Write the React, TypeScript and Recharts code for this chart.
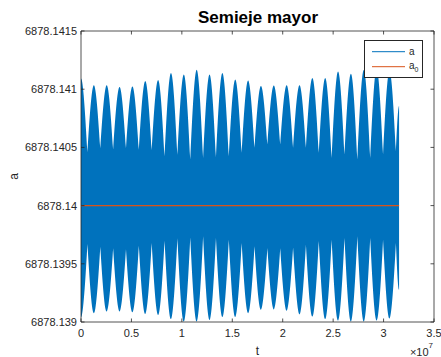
import React from 'react'
import {
  ComposedChart, Area, Line, XAxis, YAxis, ReferenceArea, Legend
} from 'recharts'

// t in units of 1e7 s, positions of the envelope extremes
const tValues = [
  0, 0.0637, 0.1274, 0.1912, 0.2549, 0.3186, 0.3823, 0.4460, 0.5098, 0.5735,
  0.6372, 0.7009, 0.7646, 0.8284, 0.8921, 0.9558, 1.0195, 1.0832, 1.1470, 1.2107,
  1.2744, 1.3381, 1.4018, 1.4656, 1.5293, 1.5930, 1.6567, 1.7204, 1.7842, 1.8479,
  1.9116, 1.9753, 2.0390, 2.1028, 2.1665, 2.2302, 2.2939, 2.3576, 2.4214, 2.4851,
  2.5488, 2.6125, 2.6762, 2.7400, 2.8037, 2.8674, 2.9311, 2.9948, 3.0586, 3.1223,
  3.1536,
]

// upper edge of the a(t) band (peak, cusp, peak, ...)
const upperValues = [
  6878.141093, 6878.140459, 6878.141033, 6878.140493, 6878.141035, 6878.140482,
  6878.141018, 6878.140493, 6878.141024, 6878.140480, 6878.141070, 6878.140476,
  6878.141078, 6878.140424, 6878.141139, 6878.140437, 6878.141126, 6878.140396,
  6878.141167, 6878.140410, 6878.141127, 6878.140416, 6878.141139, 6878.140424,
  6878.141083, 6878.140453, 6878.141074, 6878.140496, 6878.141027, 6878.140525,
  6878.141031, 6878.140525, 6878.141035, 6878.140496, 6878.141035, 6878.140496,
  6878.141096, 6878.140453, 6878.141096, 6878.140410, 6878.141153, 6878.140439,
  6878.141133, 6878.140396, 6878.141164, 6878.140410, 6878.141173, 6878.140439,
  6878.141156, 6878.140467, 6878.140855,
]

// lower edge of the a(t) band (trough, spike, trough, ...)
const lowerValues = [
  6878.139039, 6878.139670, 6878.139076, 6878.139647, 6878.139090, 6878.139633,
  6878.139090, 6878.139624, 6878.139084, 6878.139654, 6878.139069, 6878.139678,
  6878.139060, 6878.139699, 6878.139026, 6878.139720, 6878.139004, 6878.139727,
  6878.139004, 6878.139736, 6878.139017, 6878.139721, 6878.139043, 6878.139707,
  6878.139043, 6878.139678, 6878.139076, 6878.139650, 6878.139105, 6878.139635,
  6878.139108, 6878.139633, 6878.139096, 6878.139641, 6878.139065, 6878.139664,
  6878.139047, 6878.139695, 6878.139026, 6878.139707, 6878.139013, 6878.139721,
  6878.139004, 6878.139736, 6878.139004, 6878.139721, 6878.139013, 6878.139707,
  6878.139030, 6878.139678, 6878.139277,
]

const A0 = 6878.14

const xTicks = [0, 0.5, 1, 1.5, 2, 2.5, 3, 3.5]
const yTicks = [6878.139, 6878.1395, 6878.14, 6878.1405, 6878.141, 6878.1415]
const yTickLabels = ['6878.139', '6878.1395', '6878.14', '6878.1405', '6878.141', '6878.1415']

const W = 441
const H = 357
const MARGIN = { top: 31, right: 7, bottom: 0, left: 0 }
const Y_AXIS_W = 81
const X_AXIS_H = 35
const PLOT_TOP = MARGIN.top
const PLOT_RIGHT = W - MARGIN.right
const TICK_LEN = 3.5
const AXIS_COLOR = '#262626'
const BLUE = '#0072BD'
const ORANGE = '#D95319'
const FONT = "'Liberation Sans', Arial, Helvetica, sans-serif"

const data = tValues.map((t, i) => ({ t, range: [lowerValues[i], upperValues[i]], a0: A0 }))

// rounded outer extremes, sharp inner cusps (|cos|-like envelope)
const envelopeCurve = (context: any) => {
  let pts: number[][] = []
  let inArea = false
  let lineIdx = 0
  const flush = () => {
    const n = pts.length
    if (!n) return
    const top = lineIdx === 0
    const outer = pts.map((p, i) => {
      const nb = [pts[i - 1], pts[i + 1]].filter(Boolean)
      return nb.every(q => (top ? p[1] <= q[1] : p[1] >= q[1]))
    })
    if (inArea && lineIdx === 1) context.lineTo(pts[0][0], pts[0][1])
    else context.moveTo(pts[0][0], pts[0][1])
    for (let i = 1; i < n; i++) {
      const [x0, y0] = pts[i - 1]
      const [x1, y1] = pts[i]
      const dx = x1 - x0
      const dy = y1 - y0
      const same = outer[i - 1] === outer[i]
      const kA = same ? 1 : outer[i - 1] ? 0 : Math.PI / 2
      const kB = same ? 1 : outer[i] ? 0 : Math.PI / 2
      context.bezierCurveTo(x0 + dx / 3, y0 + (kA * dy) / 3, x1 - dx / 3, y1 - (kB * dy) / 3, x1, y1)
    }
    if (inArea && lineIdx === 1) context.closePath()
  }
  return {
    areaStart() { inArea = true; lineIdx = 0 },
    areaEnd() { inArea = false },
    lineStart() { pts = [] },
    lineEnd() { flush(); lineIdx++ },
    point(x: number, y: number) { pts.push([+x, +y]) },
  }
}

function XTick({ x, y, payload }: any) {
  const plotH = y - PLOT_TOP
  return (
    <g>
      <line x1={x} y1={y} x2={x} y2={y - TICK_LEN} stroke={AXIS_COLOR} strokeWidth={0.8} />
      <line x1={x} y1={y - plotH} x2={x} y2={y - plotH + TICK_LEN} stroke={AXIS_COLOR} strokeWidth={0.8} />
      <text x={x} y={y + 15} textAnchor="middle" fontSize={11} fill={AXIS_COLOR} fontFamily={FONT}>
        {String(payload.value)}
      </text>
    </g>
  )
}

function YTick({ x, y, payload }: any) {
  const idx = yTicks.findIndex(v => Math.abs(v - payload.value) < 1e-7)
  return (
    <g>
      <line x1={x} y1={y} x2={x + TICK_LEN} y2={y} stroke={AXIS_COLOR} strokeWidth={0.8} />
      <line x1={PLOT_RIGHT} y1={y} x2={PLOT_RIGHT - TICK_LEN} y2={y} stroke={AXIS_COLOR} strokeWidth={0.8} />
      <text x={x - 4} y={y + 4} textAnchor="end" fontSize={11} fill={AXIS_COLOR} fontFamily={FONT}>
        {idx >= 0 ? yTickLabels[idx] : ''}
      </text>
    </g>
  )
}

function XLabel({ viewBox }: any) {
  const { x, y, width } = viewBox
  return (
    <g fontFamily={FONT} fill={AXIS_COLOR}>
      <text x={x + width / 2} y={y + 33} textAnchor="middle" fontSize={12}>t</text>
      <text x={x + width - 1} y={y + 34} textAnchor="end" fontSize={11}>
        ×10<tspan dy={-8} fontSize={8}>7</tspan>
      </text>
    </g>
  )
}

function YLabel({ viewBox }: any) {
  const { x, y, height } = viewBox
  const cx = x + 18
  const cy = y + height / 2
  return (
    <text x={cx} y={cy} transform={`rotate(-90 ${cx} ${cy})`} textAnchor="middle"
      fontSize={12} fill={AXIS_COLOR} fontFamily={FONT}>a</text>
  )
}

function LegendBox() {
  return (
    <div style={{ width: 59, height: 38, boxSizing: 'border-box', border: `1px solid ${AXIS_COLOR}`, background: '#fff' }}>
      <svg width={57} height={36} style={{ display: 'block' }}>
        <line x1={7} y1={10.7} x2={40} y2={10.7} stroke={BLUE} strokeWidth={1} />
        <text x={44} y={14} fontSize={10} fill={AXIS_COLOR} fontFamily={FONT}>a</text>
        <line x1={7} y1={25.7} x2={40} y2={25.7} stroke={ORANGE} strokeWidth={1} />
        <text x={44} y={28} fontSize={10} fill={AXIS_COLOR} fontFamily={FONT}>
          a<tspan dy={3} fontSize={7}>0</tspan>
        </text>
      </svg>
    </div>
  )
}

export default function App() {
  return (
    <div style={{ position: 'absolute', left: 0, top: 0, width: W, height: H, background: '#fff' }}>
      <div style={{
        position: 'absolute', left: 0, top: 9, width: 2 * 258, textAlign: 'center',
        fontFamily: FONT, fontWeight: 'bold', fontSize: 17, lineHeight: '17px', color: '#000',
      }}>
        Semieje mayor
      </div>
      <ComposedChart width={W} height={H} data={data} margin={MARGIN} style={{ fontFamily: FONT }}>
        <XAxis
          dataKey="t" type="number" domain={[0, 3.5]} ticks={xTicks} interval={0}
          height={X_AXIS_H} axisLine={false} tickLine={false} tickSize={0} tickMargin={0}
          tick={<XTick />} label={{ content: XLabel }} allowDataOverflow
        />
        <YAxis
          type="number" domain={[yTicks[0], yTicks[yTicks.length - 1]]} ticks={yTicks} interval={0}
          width={Y_AXIS_W} axisLine={false} tickLine={false} tickSize={0} tickMargin={0}
          tick={<YTick />} label={{ content: YLabel }} allowDataOverflow
        />
        <Area
          dataKey="range" type={envelopeCurve as any} stroke="none" fill={BLUE} fillOpacity={1}
          dot={false} activeDot={false} isAnimationActive={false} name="a"
        />
        <Line
          dataKey="a0" type="linear" stroke={ORANGE} strokeWidth={1.3} dot={false}
          activeDot={false} isAnimationActive={false} name="a0"
        />
        <ReferenceArea
          x1={0} x2={3.5} y1={yTicks[0]} y2={yTicks[yTicks.length - 1]}
          fill="none" fillOpacity={0} stroke={AXIS_COLOR} strokeWidth={0.8} ifOverflow="visible"
        />
        <Legend
          layout="vertical" align="center" verticalAlign="middle"
          wrapperStyle={{ left: 364, top: 40, width: 59, height: 38 }}
          content={<LegendBox />}
        />
      </ComposedChart>
    </div>
  )
}
